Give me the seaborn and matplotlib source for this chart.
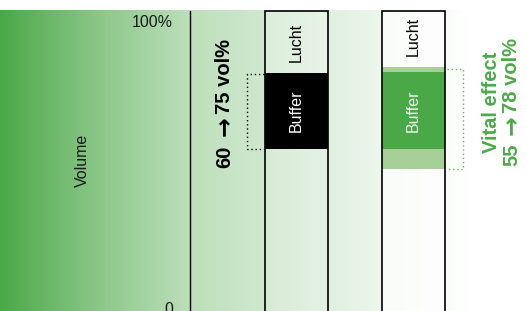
import numpy as np
import matplotlib
matplotlib.use("Agg")
import matplotlib.pyplot as plt
import seaborn as sns

# ---- data (volume %) ----
cats = ["Standaard", "Vital effect"]
lucht_top = [100.0, 100.0]
lucht_bottom = [79.3, 81.3]
buffer_top = [79.3, 79.7]
buffer_bottom = [54.0, 54.0]
band_low_bottom = [54.0, 47.3]
bracket_1 = [79.0, 54.0]
bracket_2 = [80.7, 47.3]
axis_labels = ["0", "100%"]
title_1 = ["60", "→", "75 vol%"]
title_2_head = "Vital effect"
title_2 = ["55", "→", "78 vol%"]

# ---- style ----
GREEN = np.array([75, 168, 71]) / 255
LIGHT = "#a6d097"
TXTGREEN = "#4caa48"
sns.set_theme(style="white")
plt.rcParams["font.family"] = ["Liberation Sans", "DejaVu Sans"]

W, H = 527, 311
fig = plt.figure(figsize=(W / 100, H / 100), dpi=100)
ax = fig.add_axes([0, 0, 1, 1])

UNIT = 116.5
def px2x(px):
    return (px - 296.5) / UNIT
def px2y(py):
    return (H - py) / 3.0

XMIN, XMAX = px2x(0), px2x(W)
YMAX = px2y(0)
BAR_W = 63 / UNIT

# background gradient
pxs = np.arange(W) + 0.5
t = np.interp(pxs, [0, 100, 190, 300, 380, 470, 527], [0, .36, .63, .79, .9, 1, 1])
grad = GREEN[None, :] * (1 - t[:, None]) + np.ones(3)[None, :] * t[:, None]
ax.imshow(grad[None, :, :], extent=[XMIN, XMAX, 0, px2y(10)], aspect="auto",
          zorder=0, interpolation="bilinear")

def seg(bottoms, tops, colors, **kw):
    n = len(ax.patches)
    heights = [tp - b for b, tp in zip(bottoms, tops)]
    sns.barplot(x=cats, y=heights, bottom=bottoms, width=BAR_W, errorbar=None,
                color="gray", saturation=1, ax=ax, linewidth=0, zorder=2, **kw)
    for p, c in zip(ax.patches[n:], colors):
        p.set_facecolor(c)

low = [-5.0, -5.0]
seg(lucht_bottom, lucht_top, [(1, 1, 1, 0.25), (1, 1, 1, 0.75)])
seg(buffer_top, lucht_bottom, [LIGHT, LIGHT])
seg(buffer_bottom, buffer_top, ["black", GREEN])
seg(band_low_bottom, buffer_bottom, [LIGHT, LIGHT])
seg(low, band_low_bottom, [(1, 1, 1, 0.15), (1, 1, 1, 0.7)])
# outlines
n = len(ax.patches)
sns.barplot(x=cats, y=[lt - l for lt, l in zip(lucht_top, low)], bottom=low,
            width=BAR_W, errorbar=None, color="black", saturation=1, ax=ax,
            fill=False, zorder=3)
for p in ax.patches[n:]:
    p.set_edgecolor("black")
    p.set_facecolor("none")
    p.set_linewidth(1.2)

# axis line
ax.plot([px2x(190), px2x(190)], [0, lucht_top[0]], color="black", lw=1.0, zorder=3)

# texts
ax.text(px2x(173), px2y(22.5), axis_labels[1], ha="right", va="center", fontsize=11.5, color="#1a1a1a")
ax.text(px2x(173), px2y(309), axis_labels[0], ha="right", va="center", fontsize=11.5, color="#1a1a1a")
ax.text(px2x(82), px2y(160), "Volume", rotation=90, ha="center", va="center", fontsize=11.5, color="#1a1a1a")

def rtext(px_base, py_center, s, color, size=14.5, family=None):
    kw = dict(rotation=90, rotation_mode="anchor", ha="center", va="baseline",
              fontsize=size, fontweight="bold", color=color, zorder=5)
    if family:
        kw["family"] = family
    ax.text(px2x(px_base), px2y(py_center), s, **kw)

def arrow_title(px_base, parts, centers, color):
    rtext(px_base, centers[0], parts[0], color)
    rtext(px_base + 1, centers[1], parts[1], color, size=17, family=["DejaVu Sans"])
    rtext(px_base, centers[2], parts[2], color)

arrow_title(230, title_1, [156.5, 126.5, 76], "black")
rtext(497, 102.5, title_2_head, TXTGREEN)
arrow_title(517, title_2, [155, 125.5, 75], TXTGREEN)

for i in range(2):
    ax.text(i, (lucht_top[i] + lucht_bottom[i]) / 2 + (1 if i else 0), "Lucht", rotation=90,
            ha="center", va="center", fontsize=11.5, color="black", zorder=4)
    ax.text(i, (buffer_top[i] + buffer_bottom[i]) / 2, "Buffer", rotation=90,
            ha="center", va="center", fontsize=11.5,
            color="white" if i == 0 else "#eef7ec", zorder=4)

# brackets
bx1, be1 = px2x(247), px2x(264)
ax.plot([be1, bx1, bx1, be1], [bracket_1[0], bracket_1[0], bracket_1[1], bracket_1[1]],
        color="black", lw=1.0, ls=(0, (1, 2)), zorder=4)
bx2, be2 = px2x(463), px2x(447)
ax.plot([be2, bx2, bx2, be2], [bracket_2[0], bracket_2[0], bracket_2[1], bracket_2[1]],
        color="#5cba58", lw=1.0, ls=(0, (1, 2)), zorder=4)

ax.set_xlim(XMIN, XMAX)
ax.set_ylim(0, YMAX)
ax.set_xlabel("")
ax.set_ylabel("")
ax.set_xticks([])
ax.set_yticks([])
for s in ax.spines.values():
    s.set_visible(False)

fig.savefig("out.png", dpi=100, facecolor="white")
